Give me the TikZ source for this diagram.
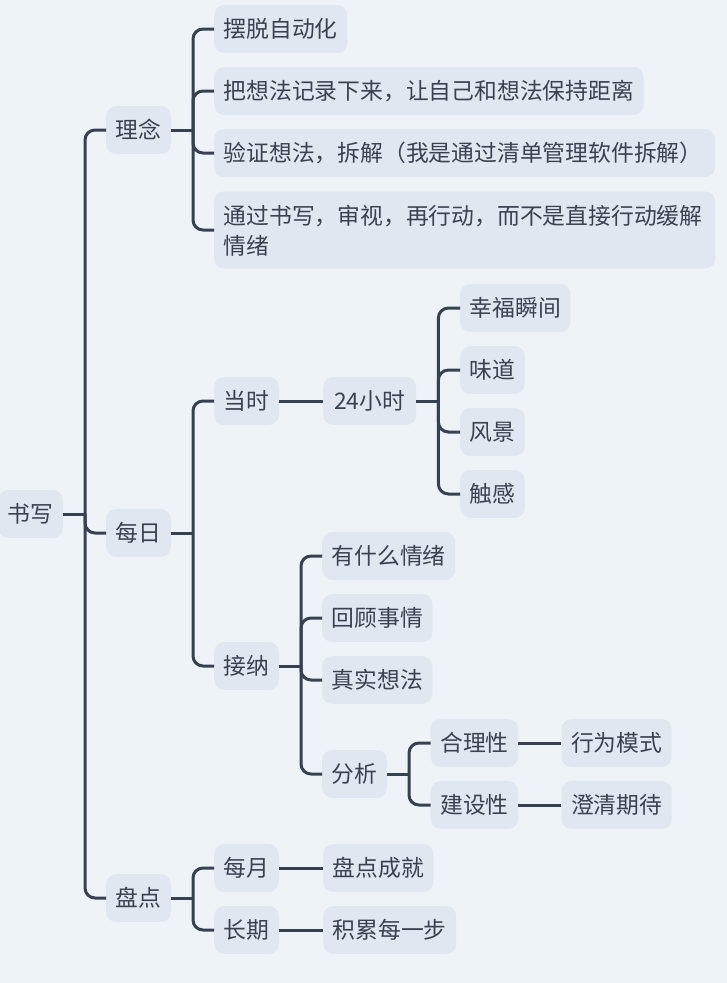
\documentclass[tikz,border=0pt]{standalone}
\usepackage{fontspec}
\setmainfont{Noto Sans CJK SC}
\usepackage{xcolor}
\usepackage{tikz}
\usetikzlibrary{positioning}
\definecolor{mapbg}{RGB}{237,243,247}
\definecolor{topicfill}{RGB}{225,231,240}
\definecolor{linkgray}{RGB}{56,65,81}
\definecolor{textgray}{RGB}{58,66,80}
\tikzset{
  topic/.style  = {fill=topicfill, rounded corners=10pt, anchor=west, text=textgray, font=\fontsize{22.8}{30}\selectfont, inner xsep=9.5pt, inner ysep=12.6pt, text height=20pt, text depth=2.7pt},
  wide/.style   = {topic, text width=482pt, align=left},
  link/.style   = {draw=linkgray, line width=3pt},
  branch/.style = {link, rounded corners=10pt},
}
\begin{document}
\begin{tikzpicture}[x=1pt, y=-1pt]
  \useasboundingbox (0,0) rectangle (727,983);
  \fill[mapbg] (0,0) rectangle (727,983);
  % main branches
  \node[topic] (root) at (-2,514) {书写};
  \node[topic] (idea) at (106,130) {理念};
  \node[topic] (daily) at (106,533) {每日};
  \node[topic] (review) at (106,898) {盘点};
  % 理念
  \node[topic] (auto) at (214,29) {摆脱自动化};
  \node[topic] (note) at (214,91) {把想法记录下来，让自己和想法保持距离};
  \node[wide] (check) at (214,153) {验证想法，拆解（我是通过清单管理软件拆解）};
  \node[wide, text depth=] (pause) at (214,230) {通过书写，审视，再行动，而不是直接行动缓解\\情绪};
  % 每日
  \node[topic] (now) at (214,401) {当时};
  \node[topic, minimum width=93pt, right=44pt of now] (day) {24小时};
  \node[topic] (joy) at (460,308) {幸福瞬间};
  \node[topic] (taste) at (460,370) {味道};
  \node[topic] (view) at (460,432) {风景};
  \node[topic] (touch) at (460,494) {触感};
  \node[topic] (accept) at (214,666) {接纳};
  \node[topic] (mood) at (322,556) {有什么情绪};
  \node[topic] (recall) at (322,618) {回顾事情};
  \node[topic] (real) at (322,680) {真实想法};
  \node[topic] (parse) at (322,774) {分析};
  \node[topic] (reason) at (430.5,743) {合理性};
  \node[topic] (build) at (430.5,805) {建设性};
  \node[topic, right=43pt of reason] (habit) {行为模式};
  \node[topic, right=43pt of build] (expect) {澄清期待};
  % 盘点
  \node[topic] (month) at (214,868) {每月};
  \node[topic, right=44pt of month] (gain) {盘点成就};
  \node[topic] (long) at (214,930) {长期};
  \node[topic, right=44pt of long] (step) {积累每一步};
  % connectors
  \draw[link] (root.east) -- ++(22,0) coordinate (rootJ);
  \draw[branch] (rootJ) |- (idea.west);
  \draw[branch] (rootJ) |- (daily.west);
  \draw[branch] (rootJ) |- (review.west);
  \draw[link] (idea.east) -- ++(22,0) coordinate (ideaJ);
  \draw[branch] (ideaJ) |- (auto.west);
  \draw[branch] (ideaJ) |- (note.west);
  \draw[branch] (ideaJ) |- (check.west);
  \draw[branch] (ideaJ) |- (pause.west);
  \draw[link] (daily.east) -- ++(22,0) coordinate (dailyJ);
  \draw[branch] (dailyJ) |- (now.west);
  \draw[branch] (dailyJ) |- (accept.west);
  \draw[link] (now.east) -- (day.west);
  \draw[link] (day.east) -- ++(22,0) coordinate (dayJ);
  \draw[branch] (dayJ) |- (joy.west);
  \draw[branch] (dayJ) |- (taste.west);
  \draw[branch] (dayJ) |- (view.west);
  \draw[branch] (dayJ) |- (touch.west);
  \draw[link] (accept.east) -- ++(22,0) coordinate (acceptJ);
  \draw[branch] (acceptJ) |- (mood.west);
  \draw[branch] (acceptJ) |- (recall.west);
  \draw[branch] (acceptJ) |- (real.west);
  \draw[branch] (acceptJ) |- (parse.west);
  \draw[link] (parse.east) -- ++(22,0) coordinate (parseJ);
  \draw[branch] (parseJ) |- (reason.west);
  \draw[branch] (parseJ) |- (build.west);
  \draw[link] (reason.east) -- (habit.west);
  \draw[link] (build.east) -- (expect.west);
  \draw[link] (review.east) -- ++(22,0) coordinate (reviewJ);
  \draw[branch] (reviewJ) |- (month.west);
  \draw[branch] (reviewJ) |- (long.west);
  \draw[link] (month.east) -- (gain.west);
  \draw[link] (long.east) -- (step.west);
\end{tikzpicture}
\end{document}
